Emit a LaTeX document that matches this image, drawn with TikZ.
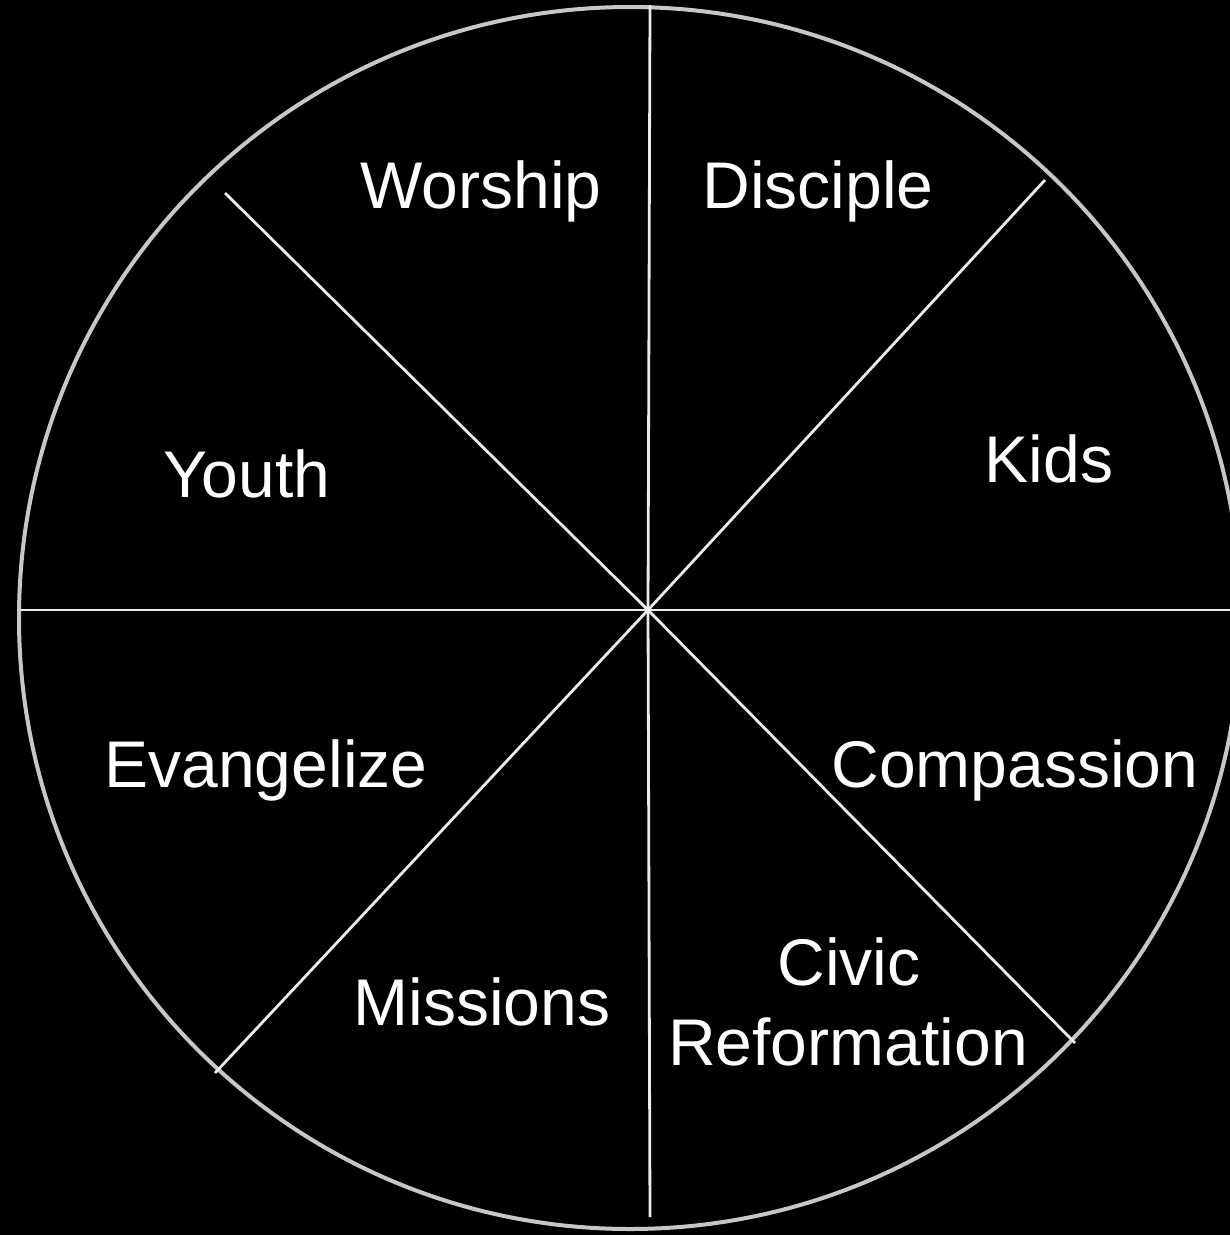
\documentclass[tikz,border=0pt]{standalone}
\usepackage{fontspec}
\setmainfont{Liberation Sans}
\begin{document}
\begin{tikzpicture}[x=1pt,y=-1pt,
  spoke/.style={draw=white!92!black,line width=2.8pt},
  rim/.style={draw=white!78!black,line width=4pt},
  lbl/.style={text=white,anchor=base,inner sep=0pt,font=\fontsize{66}{74}\selectfont}]
\useasboundingbox (0,0) rectangle (1230,1235);
\fill[black] (0,0) rectangle (1230,1235);
\clip (0,0) rectangle (1230,1235);
\draw[rim] (630,618) circle[radius=611];
\coordinate (c) at (648,610);
\coordinate (n) at (650,5);
\coordinate (s) at (650,1217);
\coordinate (w) at (20,610);
\coordinate (e) at (1232,610);
\coordinate (nw) at (225,193);
\coordinate (ne) at (1045,180);
\coordinate (sw) at (215,1073);
\coordinate (se) at (1075,1043);
\draw[spoke] (c) -- (n);
\draw[spoke] (c) -- (s);
\draw[spoke] (c) -- (w);
\draw[spoke] (c) -- (e);
\draw[spoke] (c) -- (nw);
\draw[spoke] (c) -- (ne);
\draw[spoke] (c) -- (sw);
\draw[spoke] (c) -- (se);
\node[lbl] (worship) at (481,208) {Worship};
\node[lbl] (disciple) at (818,208) {Disciple};
\node[lbl] (kids) at (1049,482) {Kids};
\node[lbl] (youth) at (247,497) {Youth};
\node[lbl] (evangelize) at (266,787) {Evangelize};
\node[lbl] (compassion) at (1015,787) {Compassion};
\node[lbl] (missions) at (482,1025) {Missions};
\node[lbl] (civic) at (849,985) {Civic};
\node[lbl] (reformation) at (848,1065) {Reformation};
\end{tikzpicture}
\end{document}
